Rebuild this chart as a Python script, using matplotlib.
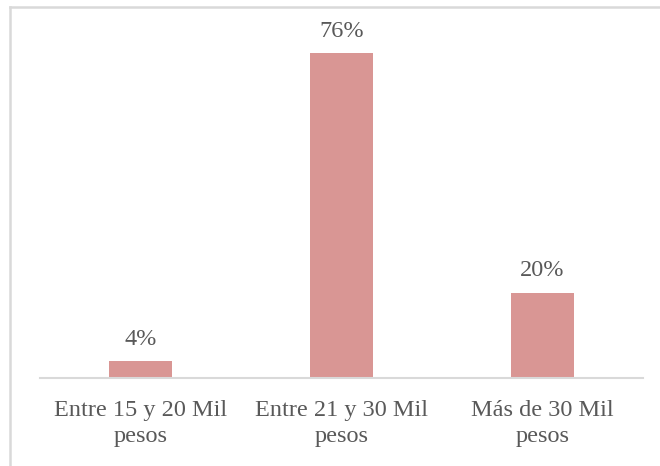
import matplotlib.pyplot as plt
from matplotlib.lines import Line2D

categories = ['Entre 15 y 20 Mil\npesos', 'Entre 21 y 30 Mil\npesos', 'Más de 30 Mil\npesos']
values = [4, 76, 20]
labels = ['4%', '76%', '20%']

bar_color = '#D99694'
text_color = '#595959'
font = ['Liberation Serif', 'DejaVu Serif']

fig = plt.figure(figsize=(6.6, 4.66), dpi=100)
ax = fig.add_axes([0.0606, 0.1888, 0.9136, 0.7339])

x = range(len(categories))
bars = ax.bar(x, values, width=0.313, color=bar_color)
for b, lab in zip(bars, labels):
    ax.annotate(lab, (b.get_x() + b.get_width() / 2, b.get_height()),
                xytext=(0, 8), textcoords='offset points', ha='center', va='bottom',
                fontsize=17.5, color=text_color, family=font)

ax.set_xlim(-0.5, 2.5)
ax.set_ylim(0, 80)
ax.set_yticks([])
ax.set_xticks(list(x))
ax.set_xticklabels(categories, fontsize=17.5, color=text_color, family=font, linespacing=1.3)
ax.tick_params(axis='x', length=0, pad=16)
for s in ['top', 'right', 'left']:
    ax.spines[s].set_visible(False)
ax.spines['bottom'].set_color('#D9D9D9')
ax.spines['bottom'].set_linewidth(1.5)

# outer chart border (only top/left visible in crop)
fig.add_artist(Line2D([10/660, 1], [1 - 7/466, 1 - 7/466], transform=fig.transFigure, color='#D9D9D9', lw=1.8))
fig.add_artist(Line2D([10/660, 10/660], [0, 1 - 7/466], transform=fig.transFigure, color='#D9D9D9', lw=1.8))

fig.savefig('out.png', dpi=100)
